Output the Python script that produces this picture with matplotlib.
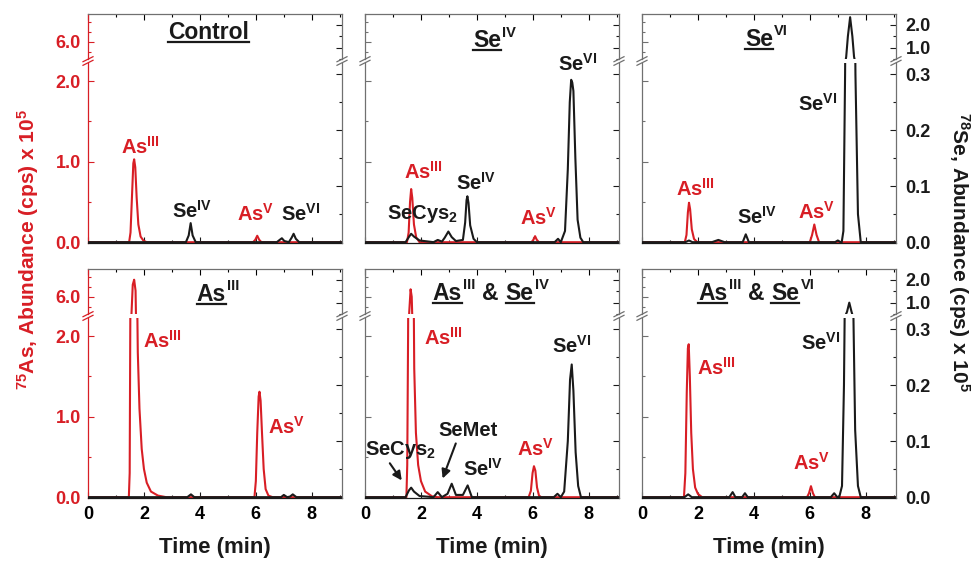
import matplotlib
matplotlib.use('Agg')
import matplotlib.pyplot as plt
from matplotlib.lines import Line2D
from matplotlib.ticker import MultipleLocator, FixedLocator, FormatStrFormatter

RED = '#d81e25'
BLK = '#1a1a1a'
GRAY = '#707070'

plt.rcParams['font.family'] = ['Liberation Sans', 'DejaVu Sans']
plt.rcParams['font.weight'] = 'bold'
plt.rcParams['mathtext.fontset'] = 'custom'
plt.rcParams['mathtext.rm'] = 'Liberation Sans:bold'
plt.rcParams['mathtext.bf'] = 'Liberation Sans:bold'
plt.rcParams['mathtext.default'] = 'bf'

# ---- chromatogram traces (time in min, abundance x 1e5 cps) ----
# Control
ctrl_as_t = [0.0, 1.47, 1.52, 1.57, 1.62, 1.65, 1.69, 1.74, 1.80, 1.88, 1.98, 2.10, 5.90, 5.98, 6.05, 6.12, 6.20, 9.1]
ctrl_as_v = [0.0, 0.0, 0.12, 0.55, 0.98, 1.03, 0.93, 0.55, 0.22, 0.07, 0.02, 0.0, 0.0, 0.03, 0.08, 0.03, 0.0, 0.0]
ctrl_se_t = [0.0, 3.50, 3.60, 3.67, 3.74, 3.85, 6.75, 6.85, 6.93, 7.02, 7.18, 7.28, 7.35, 7.43, 7.55, 9.1]
ctrl_se_v = [0.0, 0.0, 0.012, 0.034, 0.012, 0.0, 0.0, 0.004, 0.007, 0.002, 0.0, 0.008, 0.015, 0.006, 0.0, 0.0]

# SeIV
se4_as_t = [0.0, 1.50, 1.56, 1.61, 1.65, 1.69, 1.75, 1.83, 1.95, 5.95, 6.02, 6.08, 6.14, 6.22, 9.1]
se4_as_v = [0.0, 0.0, 0.12, 0.50, 0.66, 0.55, 0.22, 0.06, 0.0, 0.0, 0.03, 0.075, 0.03, 0.0, 0.0]
se4_se_t = [0.0, 1.45, 1.58, 1.65, 1.75, 1.95, 2.45, 2.60, 2.75, 2.85, 2.98, 3.10, 3.25, 3.50, 3.58,
            3.63, 3.66, 3.70, 3.76, 3.88, 4.0, 6.78, 6.90, 7.00, 7.15, 7.25, 7.32, 7.37, 7.41, 7.45,
            7.52, 7.60, 7.70, 7.80, 9.1]
se4_se_v = [0.0, 0.0, 0.010, 0.015, 0.010, 0.003, 0.0, 0.004, 0.001, 0.008, 0.019, 0.009, 0.002, 0.004, 0.035,
            0.075, 0.082, 0.070, 0.030, 0.006, 0.0, 0.0, 0.006, 0.0, 0.02, 0.13, 0.25, 0.29, 0.285, 0.27,
            0.15, 0.04, 0.008, 0.0, 0.0]

# SeVI
se6_as_t = [0.0, 1.53, 1.59, 1.64, 1.68, 1.72, 1.78, 1.86, 1.98, 6.00, 6.08, 6.16, 6.24, 6.33, 9.1]
se6_as_v = [0.0, 0.0, 0.09, 0.37, 0.49, 0.41, 0.16, 0.04, 0.0, 0.0, 0.09, 0.22, 0.09, 0.0, 0.0]
se6_se_t = [0.0, 1.55, 1.68, 1.80, 2.50, 2.73, 2.95, 3.60, 3.71, 3.82, 6.90, 7.00, 7.10, 7.14, 7.20, 7.26,
            7.30, 7.36, 7.44, 7.52, 7.58, 7.63, 7.72, 7.82, 9.1]
se6_se_v = [0.0, 0.0, 0.003, 0.0, 0.0, 0.004, 0.0, 0.0, 0.014, 0.0, 0.0, 0.003, 0.0, 0.0, 0.02, 0.3,
            0.6, 1.5, 2.34, 1.5, 0.6, 0.3, 0.05, 0.0, 0.0]

# AsIII
as3_as_t = [0.0, 1.46, 1.49, 1.51, 1.55, 1.60, 1.65, 1.70, 1.74, 1.78, 1.84, 1.92, 2.00, 2.10, 2.25, 2.50, 2.80,
            5.95, 6.00, 6.05, 6.10, 6.13, 6.17, 6.22, 6.28, 6.35, 6.45, 6.60, 9.1]
as3_as_v = [0.0, 0.0, 0.3, 2.0, 5.0, 6.6, 6.85, 6.3, 3.0, 1.8, 1.1, 0.6, 0.35, 0.18, 0.07, 0.02, 0.0,
            0.0, 0.2, 0.8, 1.25, 1.31, 1.2, 0.8, 0.35, 0.1, 0.02, 0.0, 0.0]
as3_se_t = [0.0, 3.55, 3.68, 3.80, 6.90, 7.00, 7.12, 7.22, 7.32, 7.45, 9.1]
as3_se_v = [0.0, 0.0, 0.005, 0.0, 0.0, 0.004, 0.0, 0.001, 0.005, 0.0, 0.0]

# AsIII & SeIV
as3se4_as_t = [0.0, 1.48, 1.51, 1.54, 1.58, 1.63, 1.67, 1.72, 1.76, 1.82, 1.90, 2.00, 2.15, 2.40, 2.60,
               5.85, 5.93, 5.99, 6.04, 6.09, 6.15, 6.22, 6.30, 9.1]
as3se4_as_v = [0.0, 0.0, 0.4, 2.0, 5.2, 6.37, 6.0, 3.5, 1.6, 0.8, 0.4, 0.2, 0.07, 0.01, 0.0,
               0.0, 0.08, 0.30, 0.385, 0.33, 0.12, 0.02, 0.0, 0.0]
as3se4_se_t = [0.0, 1.45, 1.57, 1.65, 1.75, 1.95, 2.45, 2.60, 2.75, 2.95, 3.10, 3.25, 3.50, 3.67, 3.82,
               6.75, 6.88, 7.00, 7.12, 7.25, 7.33, 7.39, 7.45, 7.53, 7.62, 7.72, 9.1]
as3se4_se_v = [0.0, 0.0, 0.012, 0.017, 0.010, 0.002, 0.0, 0.009, 0.0, 0.006, 0.024, 0.004, 0.004, 0.021, 0.0,
               0.0, 0.006, 0.0, 0.01, 0.10, 0.21, 0.237, 0.19, 0.08, 0.02, 0.0, 0.0]

# AsIII & SeVI
as3se6_as_t = [0.0, 1.50, 1.55, 1.60, 1.64, 1.67, 1.71, 1.76, 1.82, 1.90, 2.00, 2.15,
               5.90, 5.97, 6.04, 6.11, 6.18, 9.1]
as3se6_as_v = [0.0, 0.0, 0.3, 1.3, 1.85, 1.90, 1.5, 0.8, 0.35, 0.12, 0.04, 0.0,
               0.0, 0.05, 0.137, 0.05, 0.0, 0.0]
as3se6_se_t = [0.0, 1.52, 1.65, 1.78, 3.12, 3.24, 3.34, 3.58, 3.68, 3.78, 6.75, 6.87, 6.98,
               7.05, 7.15, 7.22, 7.26, 7.33, 7.41, 7.49, 7.55, 7.62, 7.72, 7.82, 9.1]
as3se6_se_v = [0.0, 0.0, 0.005, 0.0, 0.0, 0.009, 0.0, 0.0, 0.007, 0.0, 0.0, 0.007, 0.0,
               0.0, 0.02, 0.2, 0.4, 0.6, 1.0, 0.6, 0.35, 0.12, 0.02, 0.0, 0.0]

traces = [
    (ctrl_as_t, ctrl_as_v, ctrl_se_t, ctrl_se_v),
    (se4_as_t, se4_as_v, se4_se_t, se4_se_v),
    (se6_as_t, se6_as_v, se6_se_t, se6_se_v),
    (as3_as_t, as3_as_v, as3_se_t, as3_se_v),
    (as3se4_as_t, as3se4_as_v, as3se4_se_t, as3se4_se_v),
    (as3se6_as_t, as3se6_as_v, as3se6_se_t, as3se6_se_v),
]

# panel titles (underlined parts 'u', superscripts 's', plain 'n')
titles = [
    [('Control', 'u')],
    [('Se', 'u'), ('IV', 's')],
    [('Se', 'u'), ('VI', 's')],
    [('As', 'u'), ('III', 's')],
    [('As', 'u'), ('III', 's'), ('&', 'n'), ('Se', 'u'), ('IV', 's')],
    [('As', 'u'), ('III', 's'), ('&', 'n'), ('Se', 'u'), ('VI', 's')],
]
title_pos = [(2.87, 2.52), (3.87, 2.42), (3.68, 2.44), (3.89, 2.44), (2.42, 2.45), (2.01, 2.45)]

# peak labels: (x, baseline y in As units, text, is_arsenic)
peak_labels = [
    [(1.17, 1.10, 'As$^{III}$', True), (3.02, 0.30, 'Se$^{IV}$', False),
     (5.32, 0.26, 'As$^{V}$', True), (6.89, 0.26, 'Se$^{VI}$', False)],
    [(1.39, 0.79, 'As$^{III}$', True), (0.80, 0.29, 'SeCys$_{2}$', False), (3.25, 0.65, 'Se$^{IV}$', False),
     (5.54, 0.21, 'As$^{V}$', True), (6.91, 2.13, 'Se$^{VI}$', False)],
    [(1.22, 0.58, 'As$^{III}$', True), (3.41, 0.23, 'Se$^{IV}$', False),
     (5.56, 0.29, 'As$^{V}$', True), (5.59, 1.63, 'Se$^{VI}$', False)],
    [(1.98, 1.85, 'As$^{III}$', True), (6.45, 0.79, 'As$^{V}$', True)],
    [(2.11, 1.89, 'As$^{III}$', True), (6.68, 1.79, 'Se$^{VI}$', False), (0.0, 0.52, 'SeCys$_{2}$', False),
     (2.62, 0.76, 'SeMet', False), (3.49, 0.27, 'Se$^{IV}$', False), (5.43, 0.51, 'As$^{V}$', True)],
    [(1.98, 1.52, 'As$^{III}$', True), (5.69, 1.83, 'Se$^{VI}$', False), (5.41, 0.34, 'As$^{V}$', True)],
]

W, H = 974, 561
fig = plt.figure(figsize=(W / 100, H / 100), dpi=100)


def px_axes(x, y, w, h):
    return fig.add_axes([x / W, 1 - (y + h) / H, w / W, h / H])


col_x = [88, 365, 642]
row_y = [14, 269]
PW, TOP_H, GAP, MAIN_H = 254, 45, 4, 180
XMAX = 9.08
AS_MAIN = (-0.01, 2.226)
SE_MAIN = (-0.0015, 0.32)
AS_TOP = (5.135, 7.385)
SE_TOP = (0.50, 2.48)

underlined = []
main_axes = []

for i, (as_t, as_v, se_t, se_v) in enumerate(traces):
    r, c = divmod(i, 3)
    x0, y0 = col_x[c], row_y[r]
    ax_top = px_axes(x0, y0, PW, TOP_H)
    ax_main = px_axes(x0, y0 + TOP_H + GAP, PW, MAIN_H)
    main_axes.append(ax_main)
    left_col = RED if c == 0 else GRAY

    for ax, as_lim, se_lim, is_top in [(ax_top, AS_TOP, SE_TOP, True), (ax_main, AS_MAIN, SE_MAIN, False)]:
        ax.plot(as_t, as_v, color=RED, lw=1.5)
        ax.set_xlim(0, XMAX)
        ax.set_ylim(*as_lim)
        tw = ax.twinx()
        tw.plot(se_t, se_v, color=BLK, lw=1.5)
        tw.set_ylim(*se_lim)

        for sp in tw.spines.values():
            sp.set_visible(False)
        tw.spines['right'].set_visible(True)
        tw.spines['right'].set_color(GRAY)
        ax.spines['right'].set_visible(False)
        ax.spines['left'].set_color(left_col)
        ax.spines['top'].set_color(GRAY)
        ax.spines['bottom'].set_color(BLK)
        for sp in list(ax.spines.values()) + list(tw.spines.values()):
            sp.set_linewidth(0.9)

        ax.xaxis.set_major_locator(MultipleLocator(2))
        ax.xaxis.set_minor_locator(MultipleLocator(1))
        ax.tick_params(axis='both', which='both', direction='in', width=0.8)
        ax.tick_params(axis='both', which='major', length=4)
        ax.tick_params(axis='both', which='minor', length=2.5)
        tw.tick_params(axis='y', which='both', direction='in', width=0.8, colors=BLK)
        tw.tick_params(axis='y', which='major', length=4, pad=7)
        tw.tick_params(axis='y', which='minor', length=2.5)
        ax.tick_params(axis='y', which='both', color=left_col, labelcolor=RED, pad=5)
        ax.tick_params(axis='y', labelsize=13)
        tw.tick_params(axis='y', labelsize=13, labelcolor=BLK)

        if is_top:
            ax.spines['bottom'].set_visible(False)
            ax.tick_params(axis='x', which='both', bottom=False, top=True, labelbottom=False)
            ax.yaxis.set_major_locator(FixedLocator([6.0]))
            ax.yaxis.set_minor_locator(FixedLocator([5.5, 6.5, 7.0]))
            tw.yaxis.set_major_locator(FixedLocator([1.0, 2.0]))
            tw.yaxis.set_minor_locator(FixedLocator([0.5, 1.5]))
        else:
            ax.spines['top'].set_visible(False)
            ax.tick_params(axis='x', which='both', bottom=True, top=False, labelbottom=(r == 1),
                           labelsize=13, pad=6, color=BLK)
            ax.yaxis.set_major_locator(FixedLocator([0.0, 1.0, 2.0]))
            ax.yaxis.set_minor_locator(MultipleLocator(0.5))
            tw.yaxis.set_major_locator(FixedLocator([0.0, 0.1, 0.2, 0.3]))
            tw.yaxis.set_minor_locator(MultipleLocator(0.05))
        ax.yaxis.set_major_formatter(FormatStrFormatter('%.1f'))
        tw.yaxis.set_major_formatter(FormatStrFormatter('%.1f'))
        if c != 0:
            ax.tick_params(axis='y', labelleft=False)
        if c != 2:
            tw.tick_params(axis='y', labelright=False)

    # break marks on both side spines
    yb = y0 + TOP_H + GAP / 2
    for xs, col in [(x0, left_col), (x0 + PW, GRAY)]:
        for dy in (-1.8, 1.8):
            fig.add_artist(Line2D([(xs - 5) / W, (xs + 5) / W],
                                  [1 - (yb + dy + 2.5) / H, 1 - (yb + dy - 2.5) / H],
                                  transform=fig.transFigure, color=col, lw=0.9))

    # peak labels
    for (lx, ly, txt, is_as) in peak_labels[i]:
        ax_main.text(lx, ly, txt, color=RED if is_as else BLK, fontsize=14.5,
                     ha='left', va='baseline', zorder=10)

    # panel title with underlines
    tx, ty = title_pos[i]
    pieces = titles[i]
    base = ax_main.text(tx, ty, pieces[0][0], fontsize=16.5, color=BLK, ha='left', va='baseline')
    underlined.append(base)
    last, last_base = base, base
    for txt, kind in pieces[1:]:
        if kind == 's':
            t = ax_main.annotate(txt, xy=(1, 1), xycoords=last, xytext=(0.8, 2.5),
                                 textcoords='offset points', fontsize=10.5, color=BLK,
                                 ha='left', va='top')
        else:
            t = ax_main.annotate(txt, xy=(1, 0), xycoords=(last, last_base), xytext=(5, 0),
                                 textcoords='offset points', fontsize=16.5, color=BLK,
                                 ha='left', va='bottom')
            last_base = t
            if kind == 'u':
                underlined.append(t)
        last = t

    if r == 1:
        fig.text((x0 + PW / 2) / W, 1 - 548 / H, 'Time (min)', fontsize=16,
                 ha='center', va='center', color=BLK)

# arrows in the AsIII & SeIV panel
ax5 = main_axes[4]
ax5.annotate('', xy=(1.37, 0.18), xytext=(0.83, 0.45),
             arrowprops=dict(arrowstyle='-|>', color=BLK, lw=1.5, mutation_scale=13))
ax5.annotate('', xy=(2.74, 0.20), xytext=(3.28, 0.70),
             arrowprops=dict(arrowstyle='-|>', color=BLK, lw=1.5, mutation_scale=13))

fig.text(28 / W, 1 - 250 / H, '$^{75}$As, Abundance (cps) x 10$^{5}$', rotation=90,
         fontsize=15, color=RED, ha='center', va='center')
fig.text(959 / W, 1 - 252 / H, '$^{78}$Se, Abundance (cps) x 10$^{5}$', rotation=270,
         fontsize=15, color=BLK, ha='center', va='center')

# underline the title words
fig.canvas.draw()
for t in underlined:
    bb = t.get_window_extent()
    yy = (bb.y0 + 2) / H
    fig.add_artist(Line2D([bb.x0 / W, bb.x1 / W], [yy, yy], transform=fig.transFigure,
                          color=BLK, lw=1.6))

fig.savefig('out.png', dpi=100)
